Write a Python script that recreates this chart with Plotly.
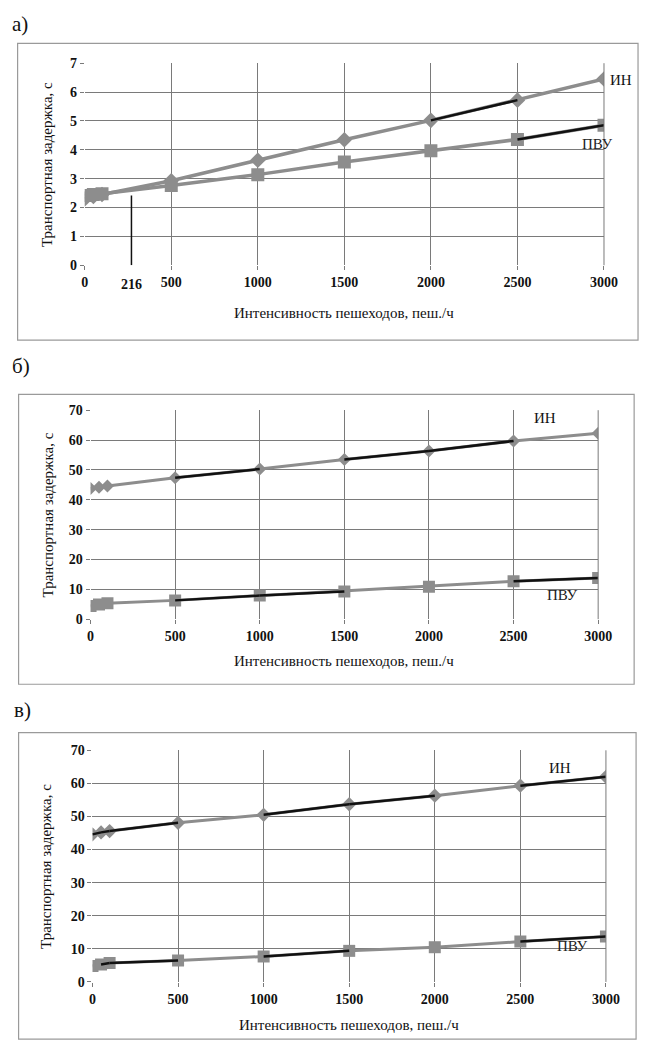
import plotly.graph_objects as go

W, H = 653, 1057

# ---------------- data ----------------
x_vals = [0, 50, 100, 500, 1000, 1500, 2000, 2500, 3000]

a_in = [2.30, 2.38, 2.45, 2.93, 3.64, 4.35, 5.02, 5.72, 6.45]
a_pvu = [2.42, 2.45, 2.48, 2.76, 3.14, 3.58, 3.97, 4.36, 4.85]
b_in = [43.8, 44.2, 44.6, 47.4, 50.3, 53.5, 56.3, 59.7, 62.3]
b_pvu = [4.4, 4.9, 5.3, 6.3, 7.9, 9.3, 10.9, 12.7, 13.8]
c_in = [44.6, 45.2, 45.6, 48.1, 50.5, 53.7, 56.3, 59.3, 62.0]
c_pvu = [4.8, 5.3, 5.7, 6.5, 7.7, 9.4, 10.5, 12.2, 13.7]

x_ticks = [0, 500, 1000, 1500, 2000, 2500, 3000]
crossing_x = 270          # position of the marked drop line in panel а)
crossing_y = 2.42
crossing_label = "216"

# black (pen-marked) overlay segments: (start index, end index)
a_in_marks = [(6, 7)]
a_pvu_marks = [(7, 8)]
b_in_marks = [(3, 4), (5, 6), (6, 7)]
b_pvu_marks = [(3, 4), (4, 5), (7, 8)]
c_in_marks = [(0, 1), (1, 2), (2, 3), (4, 5), (5, 6), (7, 8)]
c_pvu_marks = [(1, 2), (2, 3), (4, 5), (7, 8)]

x_title = "Интенсивность пешеходов, пеш./ч"
y_title = "Транспортная задержка, с"

# ---------------- layout geometry (pixels) ----------------
panels = [
    dict(key="", plot=(83, 617, 57, 262), box=(14, 652, 37, 338), yr=[0, 7], dy=1,
         label="а)", lab_xy=(6, 17), yt_x=44, msize=(12, 13), lw=3.5,
         xin=a_in, xpv=a_pvu, min=a_in_marks, mpv=a_pvu_marks,
         in_lab=(635, 74), pv_lab=(610, 139), xt_y=310),
    dict(key="2", plot=(89, 611, 409, 621), box=(15, 648, 393, 687), yr=[0, 70], dy=10,
         label="б)", lab_xy=(6, 364), yt_x=45, msize=(10, 12), lw=3,
         xin=b_in, xpv=b_pvu, min=b_in_marks, mpv=b_pvu_marks,
         in_lab=(556, 417), pv_lab=(574, 596), xt_y=663),
    dict(key="3", plot=(91, 619, 754, 989), box=(15, 650, 736, 1047), yr=[0, 70], dy=10,
         label="в)", lab_xy=(8, 713), yt_x=43, msize=(11, 12), lw=3,
         xin=c_in, xpv=c_pvu, min=c_in_marks, mpv=c_pvu_marks,
         in_lab=(572, 772), pv_lab=(585, 953), xt_y=1033),
]

GRAY = "#8d8d8d"
GRID = "#7a7a7a"
FONT = "Liberation Serif, Times New Roman, serif"

fig = go.Figure()
shapes = []
annotations = []


def px(x):
    return x / W


def py(y):
    return 1 - y / H


for p in panels:
    k = p["key"]
    xa = "x" + k
    ya = "y" + k
    x0, x1, y0, y1 = p["plot"]
    ds, ss = p["msize"]
    fig.add_trace(go.Scatter(
        x=x_vals, y=p["xin"], mode="lines+markers", xaxis=xa, yaxis=ya,
        line=dict(color=GRAY, width=p["lw"]),
        marker=dict(symbol="diamond", size=ds, color=GRAY),
        showlegend=False, hoverinfo="skip"))
    fig.add_trace(go.Scatter(
        x=x_vals, y=p["xpv"], mode="lines+markers", xaxis=xa, yaxis=ya,
        line=dict(color=GRAY, width=p["lw"]),
        marker=dict(symbol="square", size=ss, color=GRAY),
        showlegend=False, hoverinfo="skip"))
    for series, marks in ((p["xin"], p["min"]), (p["xpv"], p["mpv"])):
        for (i, j) in marks:
            fig.add_trace(go.Scatter(
                x=x_vals[i:j + 1], y=series[i:j + 1], mode="lines", xaxis=xa, yaxis=ya,
                line=dict(color="#111111", width=2.5),
                showlegend=False, hoverinfo="skip"))
    axis_common = dict(showgrid=True, gridcolor=GRID, gridwidth=1, zeroline=False,
                       ticks="outside", ticklen=4, tickcolor=GRID,
                       showline=False, fixedrange=True,
                       tickfont=dict(family=FONT, size=14, color="#111111"))
    yvals = list(range(p["yr"][0], p["yr"][1] + 1, p["dy"]))
    fig.update_layout(**{
        ("xaxis" + k): dict(domain=[px(x0), px(x1)], anchor=ya, range=[0, 3000],
                            tickvals=x_ticks, ticktext=["<b>%d</b>" % v for v in x_ticks],
                            **axis_common),
        ("yaxis" + k): dict(domain=[py(y1), py(y0)], anchor=xa, range=p["yr"],
                            tickvals=yvals, ticktext=["<b>%d</b>" % v for v in yvals],
                            **axis_common),
    })
    bx0, bx1, by0, by1 = p["box"]
    shapes.append(dict(type="rect", xref="paper", yref="paper",
                       x0=px(bx0), x1=px(bx1), y0=py(by1), y1=py(by0),
                       line=dict(color="#9a9a9a", width=1.2)))
    shapes.append(dict(type="line", xref="paper", yref="paper",
                       x0=px(x1), x1=px(x1), y0=py(y1), y1=py(y0),
                       line=dict(color=GRID, width=1)))
    annotations.append(dict(text=p["label"], xref="paper", yref="paper",
                            x=px(p["lab_xy"][0]), y=py(p["lab_xy"][1]),
                            xanchor="left", yanchor="middle", showarrow=False,
                            font=dict(family=FONT, size=21, color="#111111")))
    annotations.append(dict(text=x_title, xref="paper", yref="paper",
                            x=px((x0 + x1) / 2), y=py(p["xt_y"]),
                            xanchor="center", yanchor="middle", showarrow=False,
                            font=dict(family=FONT, size=15, color="#111111")))
    annotations.append(dict(text=y_title, xref="paper", yref="paper",
                            x=px(p["yt_x"]), y=py((y0 + y1) / 2), textangle=-90,
                            xanchor="center", yanchor="middle", showarrow=False,
                            font=dict(family=FONT, size=15, color="#111111")))
    annotations.append(dict(text="ИН", xref="paper", yref="paper",
                            x=px(p["in_lab"][0]), y=py(p["in_lab"][1]),
                            xanchor="center", yanchor="middle", showarrow=False,
                            font=dict(family=FONT, size=15, color="#111111")))
    annotations.append(dict(text="ПВУ", xref="paper", yref="paper",
                            x=px(p["pv_lab"][0]), y=py(p["pv_lab"][1]),
                            xanchor="center", yanchor="middle", showarrow=False,
                            font=dict(family=FONT, size=15, color="#222222")))

fig.add_trace(go.Scatter(x=[crossing_x, crossing_x], y=[0, crossing_y], mode="lines",
                         xaxis="x", yaxis="y", line=dict(color="#111111", width=1.5),
                         showlegend=False, hoverinfo="skip"))
annotations.append(dict(text="<b>" + crossing_label + "</b>", xref="x", yref="paper",
                        x=crossing_x, y=py(282), xanchor="center", yanchor="middle",
                        showarrow=False,
                        font=dict(family=FONT, size=14, color="#111111")))

fig.update_layout(width=W, height=H, margin=dict(l=0, r=0, t=0, b=0),
                  font=dict(family=FONT),
                  paper_bgcolor="white", plot_bgcolor="white",
                  shapes=shapes, annotations=annotations, showlegend=False)

fig.write_html("out.html", config={"displayModeBar": False},
               post_script="document.body.style.margin='0';document.body.style.overflow='hidden';")
